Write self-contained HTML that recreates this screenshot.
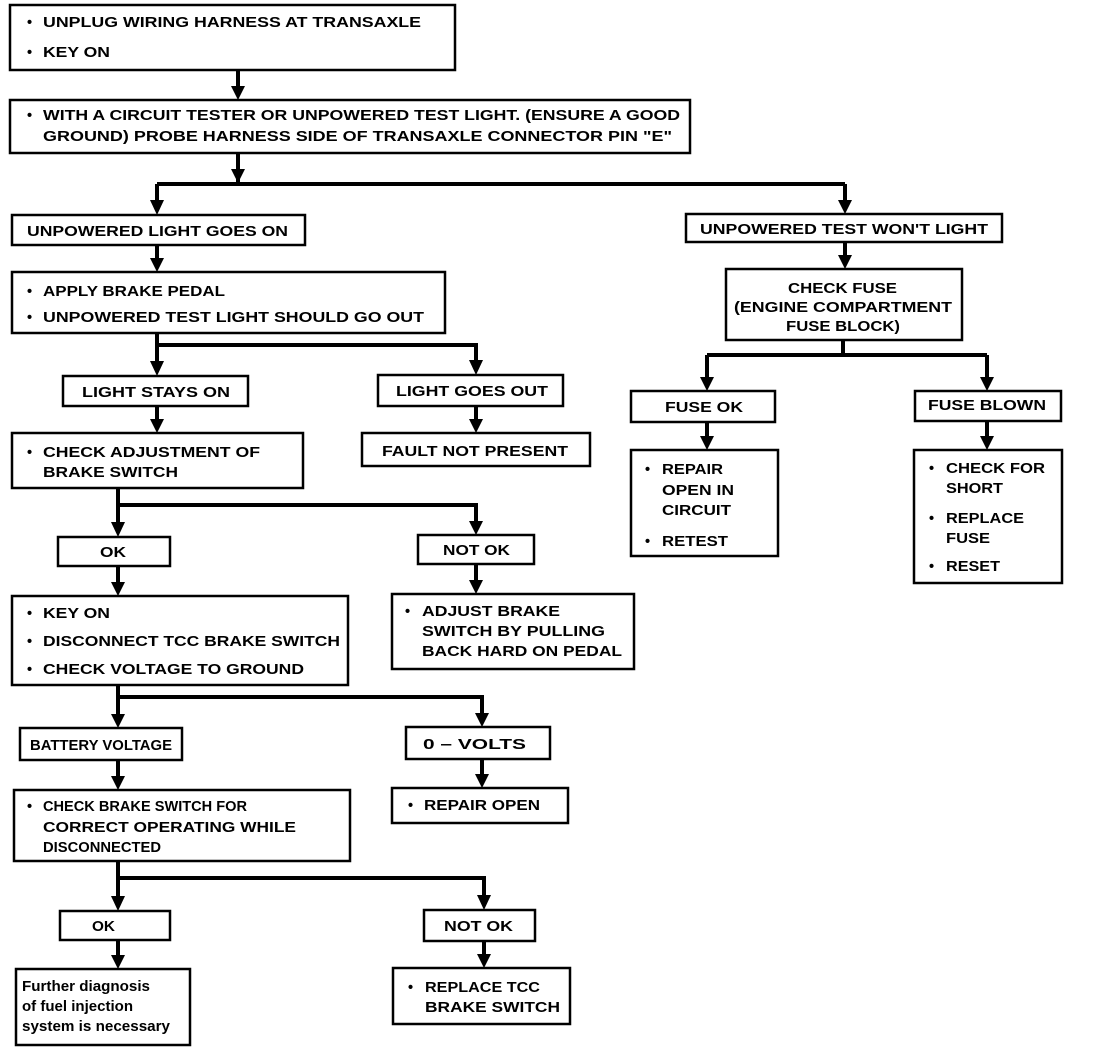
<!DOCTYPE html>
<html><head><meta charset="utf-8"><style>
html,body{margin:0;padding:0;background:#fff}
svg{display:block}
text{font-family:"Liberation Sans",sans-serif;font-weight:bold;font-size:14.5px;fill:#000}
.b{fill:#fff;stroke:#000;stroke-width:2.5}
.l{stroke:#000;stroke-width:4;fill:none}
</style></head><body>
<svg width="1120" height="1054" viewBox="0 0 1120 1054" xmlns="http://www.w3.org/2000/svg">
<defs><marker id="a" markerWidth="4" markerHeight="4" refX="2" refY="3.2" orient="auto" markerUnits="strokeWidth" viewBox="0 0 4 4"><path d="M0,0 L4,0 L2,4 Z" fill="#000" transform="rotate(-90 2 2)"/></marker></defs>
<g fill="#000">
</g>
<!-- connectors -->
<g class="l">
<path d="M238 70V90"/><path d="M238 153V184"/><path d="M157 184H845"/>
<path d="M157 184V203"/><path d="M845 184V203"/>
<path d="M157 245V260"/>
<path d="M157 333V345H476V363"/><path d="M157 345V364"/>
<path d="M157 406V421"/><path d="M476 406V421"/>
<path d="M118 488V505H476V525"/><path d="M118 505V525"/>
<path d="M118 566V584"/><path d="M476 564V582"/>
<path d="M118 685V697H482V716"/><path d="M118 697V716"/>
<path d="M118 760V778"/><path d="M482 759V776"/>
<path d="M118 861V878H484V898"/><path d="M118 878V898"/>
<path d="M118 940V957"/><path d="M484 941V956"/>
<path d="M845 242V257"/>
<path d="M843 340V355"/><path d="M707 355H987"/><path d="M707 355V379"/><path d="M987 355V379"/>
<path d="M707 422V438"/><path d="M987 421V438"/>
</g>
<g fill="#000">
<path d="M231 86h14l-7 14z"/><path d="M231 169h14l-7 14z"/>
<path d="M150 200h14l-7 15z"/><path d="M838 200h14l-7 14z"/>
<path d="M150 258h14l-7 14z"/>
<path d="M150 361h14l-7 15z"/><path d="M469 360h14l-7 15z"/>
<path d="M150 419h14l-7 14z"/><path d="M469 419h14l-7 14z"/>
<path d="M111 522h14l-7 15z"/><path d="M469 521h14l-7 14z"/>
<path d="M111 582h14l-7 14z"/><path d="M469 580h14l-7 14z"/>
<path d="M111 714h14l-7 14z"/><path d="M475 713h14l-7 14z"/>
<path d="M111 776h14l-7 14z"/><path d="M475 774h14l-7 14z"/>
<path d="M111 896h14l-7 15z"/><path d="M477 895h14l-7 15z"/>
<path d="M111 955h14l-7 14z"/><path d="M477 954h14l-7 14z"/>
<path d="M838 255h14l-7 14z"/>
<path d="M700 377h14l-7 14z"/><path d="M980 377h14l-7 14z"/>
<path d="M700 436h14l-7 14z"/><path d="M980 436h14l-7 14z"/>
</g>
<!-- boxes -->
<rect class="b" x="10" y="5" width="445" height="65"/>
<rect class="b" x="10" y="100" width="680" height="53"/>
<rect class="b" x="12" y="215" width="293" height="30"/>
<rect class="b" x="686" y="214" width="316" height="28"/>
<rect class="b" x="12" y="272" width="433" height="61"/>
<rect class="b" x="63" y="376" width="185" height="30"/>
<rect class="b" x="378" y="375" width="185" height="31"/>
<rect class="b" x="362" y="433" width="228" height="33"/>
<rect class="b" x="12" y="433" width="291" height="55"/>
<rect class="b" x="58" y="537" width="112" height="29"/>
<rect class="b" x="418" y="535" width="116" height="29"/>
<rect class="b" x="12" y="596" width="336" height="89"/>
<rect class="b" x="392" y="594" width="242" height="75"/>
<rect class="b" x="20" y="728" width="162" height="32"/>
<rect class="b" x="406" y="727" width="144" height="32"/>
<rect class="b" x="14" y="790" width="336" height="71"/>
<rect class="b" x="392" y="788" width="176" height="35"/>
<rect class="b" x="60" y="911" width="110" height="29"/>
<rect class="b" x="424" y="910" width="111" height="31"/>
<rect class="b" x="16" y="969" width="174" height="76"/>
<rect class="b" x="393" y="968" width="177" height="56"/>
<rect class="b" x="726" y="269" width="236" height="71"/>
<rect class="b" x="631" y="391" width="144" height="31"/>
<rect class="b" x="915" y="391" width="146" height="30"/>
<rect class="b" x="631" y="450" width="147" height="106"/>
<rect class="b" x="914" y="450" width="148" height="133"/>
<!-- text -->
<g>
<text x="27" y="27">•</text><text x="43" y="27" textLength="378" lengthAdjust="spacingAndGlyphs">UNPLUG WIRING HARNESS AT TRANSAXLE</text>
<text x="27" y="57">•</text><text x="43" y="57" textLength="67" lengthAdjust="spacingAndGlyphs">KEY ON</text>
<text x="27" y="120">•</text><text x="43" y="120" textLength="637" lengthAdjust="spacingAndGlyphs">WITH A CIRCUIT TESTER OR UNPOWERED TEST LIGHT. (ENSURE A GOOD</text>
<text x="43" y="141" textLength="629" lengthAdjust="spacingAndGlyphs">GROUND) PROBE HARNESS SIDE OF TRANSAXLE CONNECTOR PIN "E"</text>
<text x="27" y="236" textLength="261" lengthAdjust="spacingAndGlyphs">UNPOWERED LIGHT GOES ON</text>
<text x="700" y="234" textLength="288" lengthAdjust="spacingAndGlyphs">UNPOWERED TEST WON'T LIGHT</text>
<text x="27" y="296">•</text><text x="43" y="296" textLength="182" lengthAdjust="spacingAndGlyphs">APPLY BRAKE PEDAL</text>
<text x="27" y="322">•</text><text x="43" y="322" textLength="381" lengthAdjust="spacingAndGlyphs">UNPOWERED TEST LIGHT SHOULD GO OUT</text>
<text x="82" y="397" textLength="148" lengthAdjust="spacingAndGlyphs">LIGHT STAYS ON</text>
<text x="396" y="396" textLength="152" lengthAdjust="spacingAndGlyphs">LIGHT GOES OUT</text>
<text x="382" y="456" textLength="186" lengthAdjust="spacingAndGlyphs">FAULT NOT PRESENT</text>
<text x="27" y="457">•</text><text x="43" y="457" textLength="217" lengthAdjust="spacingAndGlyphs">CHECK ADJUSTMENT OF</text>
<text x="43" y="477" textLength="135" lengthAdjust="spacingAndGlyphs">BRAKE SWITCH</text>
<text x="100" y="557" textLength="26" lengthAdjust="spacingAndGlyphs">OK</text>
<text x="443" y="555" textLength="67" lengthAdjust="spacingAndGlyphs">NOT OK</text>
<text x="27" y="618">•</text><text x="43" y="618" textLength="67" lengthAdjust="spacingAndGlyphs">KEY ON</text>
<text x="27" y="646">•</text><text x="43" y="646" textLength="297" lengthAdjust="spacingAndGlyphs">DISCONNECT TCC BRAKE SWITCH</text>
<text x="27" y="674">•</text><text x="43" y="674" textLength="261" lengthAdjust="spacingAndGlyphs">CHECK VOLTAGE TO GROUND</text>
<text x="405" y="616">•</text><text x="422" y="616" textLength="138" lengthAdjust="spacingAndGlyphs">ADJUST BRAKE</text>
<text x="422" y="636" textLength="183" lengthAdjust="spacingAndGlyphs">SWITCH BY PULLING</text>
<text x="422" y="656" textLength="200" lengthAdjust="spacingAndGlyphs">BACK HARD ON PEDAL</text>
<text x="30" y="750" textLength="142" lengthAdjust="spacingAndGlyphs">BATTERY VOLTAGE</text>
<text x="423" y="749" textLength="103" lengthAdjust="spacingAndGlyphs">0 – VOLTS</text>
<text x="27" y="811">•</text><text x="43" y="811" textLength="204" lengthAdjust="spacingAndGlyphs">CHECK BRAKE SWITCH FOR</text>
<text x="43" y="832" textLength="253" lengthAdjust="spacingAndGlyphs">CORRECT OPERATING WHILE</text>
<text x="43" y="852" textLength="118" lengthAdjust="spacingAndGlyphs">DISCONNECTED</text>
<text x="408" y="810">•</text><text x="424" y="810" textLength="116" lengthAdjust="spacingAndGlyphs">REPAIR OPEN</text>
<text x="92" y="931" textLength="23" lengthAdjust="spacingAndGlyphs">OK</text>
<text x="444" y="931" textLength="69" lengthAdjust="spacingAndGlyphs">NOT OK</text>
<text x="22" y="991" textLength="128" lengthAdjust="spacingAndGlyphs">Further diagnosis</text>
<text x="22" y="1011" textLength="111" lengthAdjust="spacingAndGlyphs">of fuel injection</text>
<text x="22" y="1031" textLength="148" lengthAdjust="spacingAndGlyphs">system is necessary</text>
<text x="408" y="992">•</text><text x="425" y="992" textLength="115" lengthAdjust="spacingAndGlyphs">REPLACE TCC</text>
<text x="425" y="1012" textLength="135" lengthAdjust="spacingAndGlyphs">BRAKE SWITCH</text>
<text x="788" y="293" textLength="109" lengthAdjust="spacingAndGlyphs">CHECK FUSE</text>
<text x="734" y="312" textLength="218" lengthAdjust="spacingAndGlyphs">(ENGINE COMPARTMENT</text>
<text x="786" y="331" textLength="114" lengthAdjust="spacingAndGlyphs">FUSE BLOCK)</text>
<text x="665" y="412" textLength="78" lengthAdjust="spacingAndGlyphs">FUSE OK</text>
<text x="928" y="410" textLength="118" lengthAdjust="spacingAndGlyphs">FUSE BLOWN</text>
<text x="645" y="474">•</text><text x="662" y="474" textLength="61" lengthAdjust="spacingAndGlyphs">REPAIR</text>
<text x="662" y="495" textLength="72" lengthAdjust="spacingAndGlyphs">OPEN IN</text>
<text x="662" y="515" textLength="69" lengthAdjust="spacingAndGlyphs">CIRCUIT</text>
<text x="645" y="546">•</text><text x="662" y="546" textLength="66" lengthAdjust="spacingAndGlyphs">RETEST</text>
<text x="929" y="473">•</text><text x="946" y="473" textLength="99" lengthAdjust="spacingAndGlyphs">CHECK FOR</text>
<text x="946" y="493" textLength="57" lengthAdjust="spacingAndGlyphs">SHORT</text>
<text x="929" y="523">•</text><text x="946" y="523" textLength="78" lengthAdjust="spacingAndGlyphs">REPLACE</text>
<text x="946" y="543" textLength="44" lengthAdjust="spacingAndGlyphs">FUSE</text>
<text x="929" y="571">•</text><text x="946" y="571" textLength="54" lengthAdjust="spacingAndGlyphs">RESET</text>
</g>
</svg>
</body></html>
